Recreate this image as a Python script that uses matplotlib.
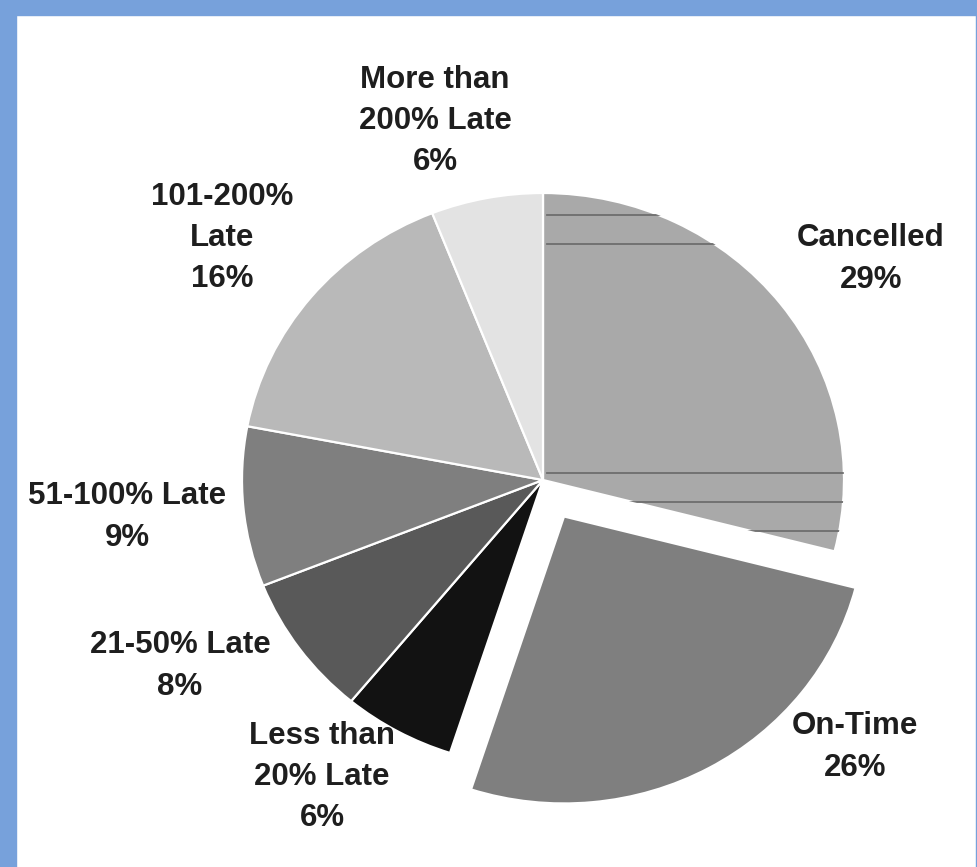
import matplotlib
matplotlib.use("Agg")
import matplotlib.pyplot as plt
from matplotlib.patches import Rectangle
import numpy as np

# Flight status breakdown
categories = ["Cancelled", "On-Time", "Less than\n20% Late", "21-50% Late",
              "51-100% Late", "101-200%\nLate", "More than\n200% Late"]
shares = [29, 26, 6, 8, 9, 16, 6]
colors = ["#a9a9a9", "#7f7f7f", "#121212", "#595959", "#7f7f7f", "#b9b9b9", "#e3e3e3"]
explode = [0, 0.145, 0, 0, 0, 0, 0]

# label anchor points in figure pixels (x, y from top)
label_pos = [(871, 259), (855, 747), (322, 777), (180, 666),
             (127, 517), (222, 238), (435, 121)]

# horizontal rule rows drawn across the Cancelled slice (in radius units)
rule_rows = [0.923, 0.822, 0.024, -0.077, -0.178]

W, H = 978, 867
cx, cy = 543, 480      # pie centre in pixels
rx, ry = 301, 287      # horizontal / vertical radius in pixels

fig = plt.figure(figsize=(W / 100, H / 100), dpi=100)
fig.patch.set_facecolor("white")

ax = fig.add_axes([0, 0, 1, 1])
wedges, _ = ax.pie(shares, colors=colors, explode=explode, startangle=90,
                   counterclock=False, radius=1.0,
                   wedgeprops=dict(edgecolor="white", linewidth=1.6))
ax.set_aspect("auto")
ax.set_xlim(-cx / rx, (W - cx) / rx)
ax.set_ylim(-(H - cy) / ry, cy / ry)
ax.axis("off")

# rules inside the Cancelled slice
for yr in rule_rows:
    ln, = ax.plot([0.012, 1.2], [yr, yr], color="#6e6e6e", linewidth=1.3, zorder=3)
    ln.set_clip_path(wedges[0])

for lab, pct, (px, py) in zip(categories, shares, label_pos):
    fig.text(px / W, 1 - py / H, f"{lab}\n{pct}%", ha="center", va="center",
             fontsize=22.5, fontweight="bold", family="Liberation Sans",
             color="#1e1e1e", linespacing=1.48)

# blue frame around the picture
frame_col = "#77a1db"
fig.patches.append(Rectangle((0, 0), 16 / W, 1, transform=fig.transFigure,
                             color=frame_col, zorder=10))
fig.patches.append(Rectangle((0, 1 - 15 / H), 1, 15 / H, transform=fig.transFigure,
                             color=frame_col, zorder=10))
fig.patches.append(Rectangle((1 - 1.5 / W, 0), 1.5 / W, 1, transform=fig.transFigure,
                             color=frame_col, zorder=10))

fig.savefig("out.png", dpi=100)
